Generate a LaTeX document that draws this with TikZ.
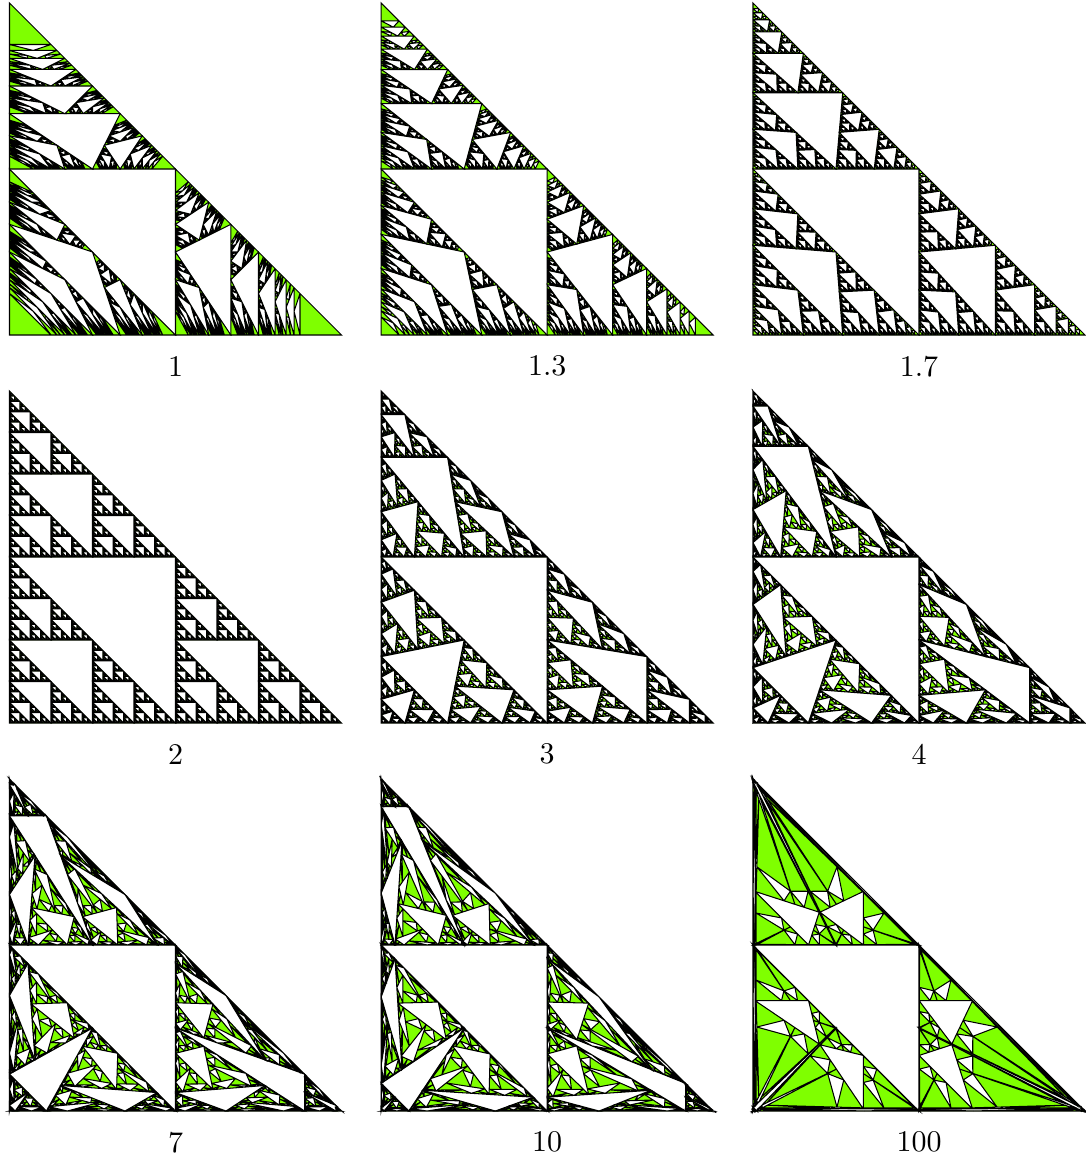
\documentclass[tikz,border=0pt]{standalone}
\definecolor{leafgreen}{RGB}{127,255,0}
\tikzset{leaf/.style={draw=black,fill=leafgreen,line width=.35pt}}
\newcommand{\gasketpath}{}
\newcommand{\gaskethop}[1]{\edef\gasketnext{\noexpand\gasket#1}\gasketnext}
\newcommand{\gasket}[9]{%
\ifnum\level=0
\xdef\gasketpath{\gasketpath (#1,#2)--(#4,#5)--(#7,#8)--cycle}%
\else
\begingroup
\edef\level{\the\numexpr\level-1}%
\edef\ux{\fpeval{(#3*#1+#6*#4)/(#3+#6)}}%
\edef\uy{\fpeval{(#3*#2+#6*#5)/(#3+#6)}}%
\edef\uw{\fpeval{(#3+#6)/\pw}}%
\edef\vx{\fpeval{(#6*#4+#9*#7)/(#6+#9)}}%
\edef\vy{\fpeval{(#6*#5+#9*#8)/(#6+#9)}}%
\edef\vw{\fpeval{(#6+#9)/\pw}}%
\edef\wx{\fpeval{(#9*#7+#3*#1)/(#9+#3)}}%
\edef\wy{\fpeval{(#9*#8+#3*#2)/(#9+#3)}}%
\edef\ww{\fpeval{(#9+#3)/\pw}}%
\gaskethop{{#1}{#2}{#3}{\ux}{\uy}{\uw}{\wx}{\wy}{\ww}}%
\gaskethop{{\ux}{\uy}{\uw}{#4}{#5}{#6}{\vx}{\vy}{\vw}}%
\gaskethop{{\wx}{\wy}{\ww}{\vx}{\vy}{\vw}{#7}{#8}{#9}}%
\ifnum\level=3
\draw[leaf] \gasketpath;
\gdef\gasketpath{}%
\fi
\endgroup
\fi}
\begin{document}
\begin{tikzpicture}[x=.33333pt,y=.33333pt]
\useasboundingbox (0,0) rectangle (1086,-1160);
\def\level{7}
\foreach \pw/\cx/\cy [count=\i] in {1/9.5/-335,1.3/381.2/-335,1.7/753/-335,
2/9.5/-723,3/381.2/-723,4/753/-723,
7/9.5/-1111,10/381.2/-1111,100/753/-1111}
{
\begin{scope}[shift={(\cx,\cy)},x=110.667pt,y=110.667pt]
\gasket{0}{0}{1}{1}{0}{1}{0}{1}{1}
\node (label\i) at (.5,-.094) {\pw};
\end{scope}
}
\end{tikzpicture}
\end{document}
